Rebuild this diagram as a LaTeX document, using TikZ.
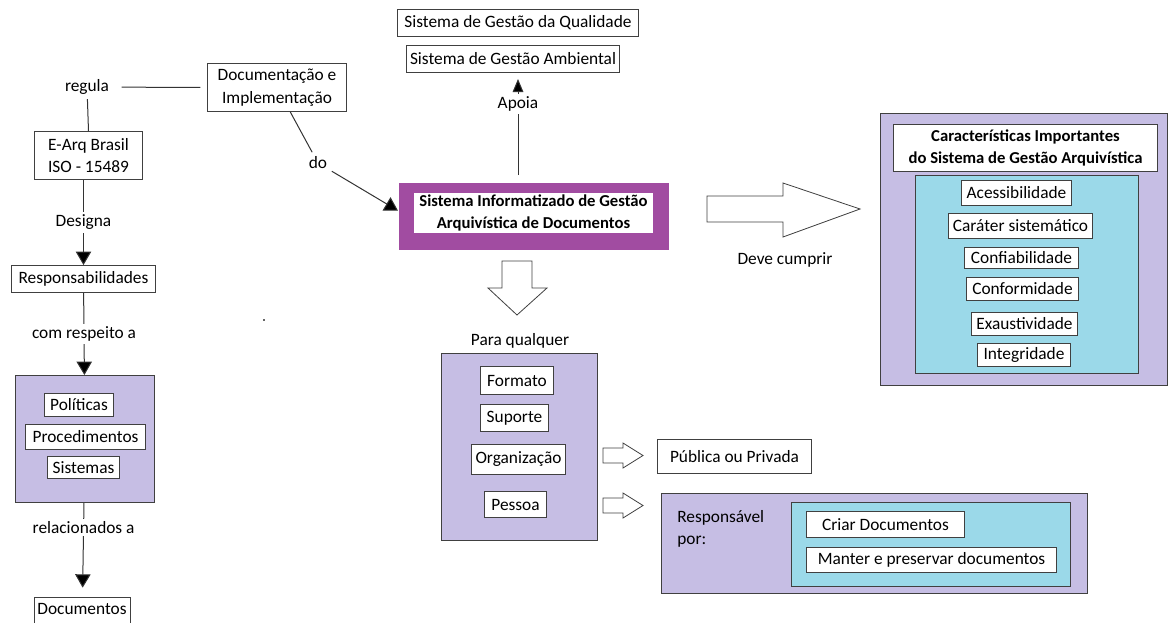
\documentclass[tikz,border=0pt]{standalone}
\usepackage{fontspec}
\setmainfont{Carlito}
\usetikzlibrary{arrows.meta}
\definecolor{lilas}{RGB}{198,190,228}
\definecolor{ciano}{RGB}{155,217,233}
\definecolor{roxo}{RGB}{161,76,161}

\begin{document}
\begin{tikzpicture}[x=0.75pt,y=-0.75pt,
    font=\fontsize{13}{17}\selectfont,
    caixa/.style={draw=black!75, fill=white, line width=0.75pt, inner sep=0pt, align=center, anchor=north west},
    painel/.style={draw=black!75, line width=0.75pt, inner sep=0pt, anchor=north west},
    tam/.style 2 args={minimum width=#1*0.75pt, minimum height=#2*0.75pt},
    liga/.style={draw=black!80, line width=0.75pt},
    seta/.style={liga, -{Triangle[length=10pt,width=11.5pt,fill=black]}},
    rotulo/.style={fill=white, inner sep=2pt},
    bloco/.style={draw=black!75, fill=white, line width=0.6pt}]
     \useasboundingbox (0,0) rectangle (1168,622);
     \clip (0,0) rectangle (1168,622);

     % coluna da esquerda
     \node (regula) at (87,87) {regula};
     \node[caixa, tam={139}{48}] (doc) at (207,63) {Documentação e\\Implementação};
     \node[caixa, tam={108}{48}] (earq) at (34,131) {E-Arq Brasil\\ISO - 15489};
     \node[caixa, tam={144}{27}] (resp) at (11,265) {Responsabilidades};
     \node[painel, fill=lilas, tam={139}{127}] (pps) at (15,375) {};
     \node[caixa, tam={69}{23}] (politicas) at (44,393) {Políticas};
     \node[caixa, tam={120}{25}] (proced) at (25,424) {Procedimentos};
     \node[caixa, tam={72}{22}] (sistemas) at (47,456) {Sistemas};
     \node[caixa, tam={96}{45}] (docs) at (34,597) {};
     \node (docstxt) at (82,609) {Documentos};

     \draw[liga, shorten <=6pt, shorten >=5pt] (regula) -- (doc.west);
     \draw[liga] (regula) -- (earq.north);
     \draw[seta] (earq.south -| resp.north) -- node[rotulo] (designa) {Designa} (resp.north);
     \draw[seta] (resp) -- node[rotulo] (respeito) {com respeito a} (pps);
     \draw[seta, shorten >=7pt] (pps) -- node[rotulo, pos=0.26] (relac) {relacionados a} (docs.north);
     \fill[black!60] (263,319) rectangle (265,321);

     % centro
     \node[painel, draw=none, fill=roxo, tam={270}{67}] (sigad) at (398,182) {};
     \node[fill=white, inner sep=0pt, tam={239}{40}, align=center, font=\fontsize{12.5}{17}\selectfont\bfseries] (sigadtxt) at (533.5,213)
       {Sistema Informatizado de Gestão\\Arquivística de Documentos};
     \node (do) at (318,163) {do};
     \draw[liga] (doc) -- (do);
     \draw[seta] (do) -- ([yshift=4pt]sigad.west);

     \node[caixa, tam={241}{27}] (qualidade) at (397,9) {Sistema de Gestão da Qualidade};
     \node[caixa, tam={213}{27}] (ambiental) at (406,45) {Sistema de Gestão Ambiental};
     \coordinate (pe) at (518,175);
     \draw[liga, -{Triangle[length=9.75pt,width=8pt,fill=black]}, shorten >=4.5pt] (pe) -- node[rotulo, pos=0.7] (apoia) {Apoia} (pe |- ambiental.south);

     \draw[bloco] (502,261) -- (532,261) -- (532,288) -- (547,288) -- (517,315)
       -- (488,288) -- (502,288) -- cycle;
     \node (para) at (520,341) {Para qualquer};
     \node[painel, fill=lilas, tam={156}{187}] (qualquer) at (441,353) {};
     \node[caixa, tam={73}{28}] (formato) at (480,366) {Formato};
     \node[caixa, tam={68}{27}] (suporte) at (480,404) {Suporte};
     \node[caixa, tam={94}{30}] (organiz) at (471,444) {Organização};
     \node[caixa, tam={62}{26}] (pessoa) at (484,491) {Pessoa};

     \draw[bloco] (603,448) -- (623,448) -- (623,443) -- (643,455.5) -- (623,468)
       -- (623,463) -- (603,463) -- cycle;
     \draw[bloco] (603,498) -- (623,498) -- (623,493) -- (643,505.5) -- (623,518)
       -- (623,513) -- (603,513) -- cycle;
     \node[caixa, tam={154}{34}] (publica) at (657,439) {Pública ou Privada};

     \node[painel, fill=lilas, tam={426}{100}] (respbox) at (661,493) {};
     \node[anchor=north west, align=left, inner sep=0pt] (resptxt) at (677,510) {Responsável\\por:};
     \node[painel, fill=ciano, tam={279}{84}] (acoes) at (791,502) {};
     \node[caixa, tam={158}{26}] (criar) at (806,511) {Criar Documentos};
     \node[caixa, tam={250}{25}] (manter) at (806,547) {Manter e preservar documentos};

     % direita
     \draw[bloco] (707,196) -- (783,196) -- (783,183) -- (860,209) -- (783,237)
       -- (783,222) -- (707,222) -- cycle;
     \node (deve) at (785,260) {Deve cumprir};

     \node[painel, fill=lilas, tam={287}{272}] (caract) at (880,113) {};
     \node[caixa, tam={264}{47}, font=\fontsize{12.5}{17}\selectfont\bfseries] (titulo) at (893,124)
       {Características Importantes\\do Sistema de Gestão Arquivística};
     \node[painel, fill=ciano, tam={223}{198}] (lista) at (915,175) {};
     \node[caixa, tam={110}{25}] (acess) at (961,180) {Acessibilidade};
     \node[caixa, tam={144}{25}] (carater) at (948,213) {Caráter sistemático};
     \node[caixa, tam={114}{21}] (confiab) at (964,247) {Confiabilidade};
     \node[caixa, tam={112}{23}] (conform) at (966,277) {Conformidade};
     \node[caixa, tam={106}{23}] (exaust) at (971,312) {Exaustividade};
     \node[caixa, tam={93}{23}] (integr) at (977,343) {Integridade};
    \end{tikzpicture}
\end{document}
